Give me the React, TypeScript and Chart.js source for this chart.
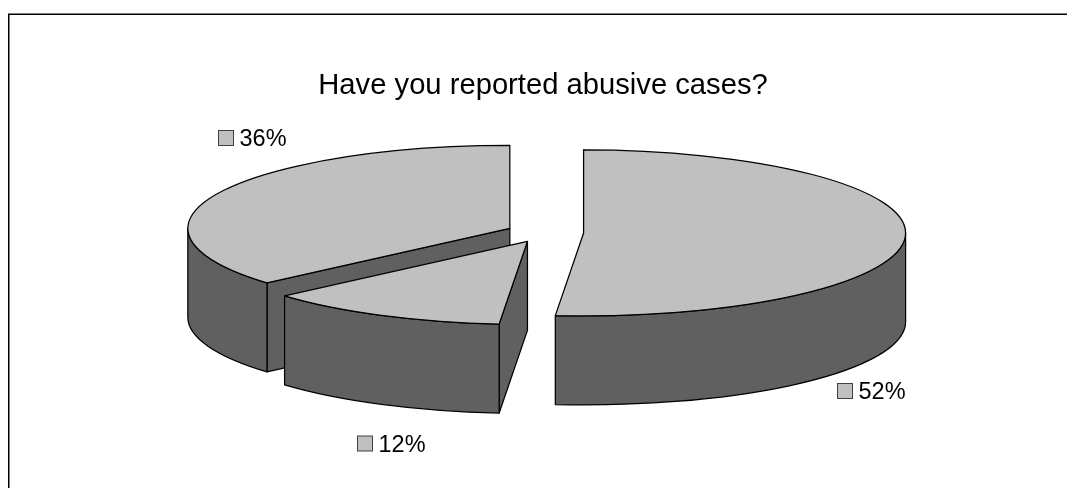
import React, { useEffect, useRef } from "react";
import { Chart, registerables } from "chart.js";

Chart.register(...registerables);

const TITLE = "Have you reported abusive cases?";
const categories = ["Yes", "No answer", "No"];
const shares = [51.4, 12.2, 36.4];
const percentLabels = ["52%", "12%", "36%"];

const FONT = '"Liberation Sans", Arial, sans-serif';
const TOP_COLOR = "#c0c0c0";
const SIDE_COLOR = "#606060";
const EDGE_COLOR = "#000000";

// Projection of the 3D pie onto the page
const CX = 545;
const CY = 232.5;
const RX = 322;
const RY = 83;
const DEPTH = 89;
const EXPLODE = 0.12;
// Where each percentage key begins (left edge of key, vertical middle)
const LABEL_ANCHORS = [
  { x: 837, y: 391 },
  { x: 357, y: 443.5 },
  { x: 218, y: 138 },
];

const pie3d = {
  id: "pie3d",
  beforeDatasetsDraw(chart: any) {
    const { ctx } = chart;
    const arcs = chart.getDatasetMeta(0).data as any[];
    const slices = arcs.map((arc, i) => {
      const { startAngle: a0, endAngle: a1 } = arc.getProps(["startAngle", "endAngle"], true);
      const mid = (a0 + a1) / 2;
      return {
        i,
        a0,
        a1,
        mid,
        ox: CX + Math.cos(mid) * EXPLODE * RX,
        oy: CY + Math.sin(mid) * EXPLODE * RY,
      };
    });
    // painter's order: left-back slice, then the others
    const order = [...slices].sort((p, q) => p.oy - q.oy);
    ctx.save();
    ctx.lineJoin = "round";
    ctx.lineWidth = 1.25;
    ctx.strokeStyle = EDGE_COLOR;
    for (const s of order) {
      const px = (a: number) => s.ox + Math.cos(a) * RX;
      const py = (a: number) => s.oy + Math.sin(a) * RY;
      const face = (a: number) => {
        ctx.beginPath();
        ctx.moveTo(s.ox, s.oy);
        ctx.lineTo(px(a), py(a));
        ctx.lineTo(px(a), py(a) + DEPTH);
        ctx.lineTo(s.ox, s.oy + DEPTH);
        ctx.closePath();
        ctx.fillStyle = SIDE_COLOR;
        ctx.fill();
        ctx.stroke();
      };
      // radial cut faces that look toward the viewer
      if (Math.cos(s.a0) < 1e-6) face(s.a0);
      if (Math.cos(s.a1) > 1e-6) face(s.a1);
      // outer wall: the part of the rim on the near half
      const wallFrom = Math.max(s.a0, 0);
      const wallTo = Math.min(s.a1, Math.PI);
      if (wallTo > wallFrom) {
        ctx.beginPath();
        ctx.ellipse(s.ox, s.oy, RX, RY, 0, wallFrom, wallTo);
        ctx.lineTo(px(wallTo), py(wallTo) + DEPTH);
        ctx.ellipse(s.ox, s.oy + DEPTH, RX, RY, 0, wallTo, wallFrom, true);
        ctx.closePath();
        ctx.fillStyle = SIDE_COLOR;
        ctx.fill();
        ctx.stroke();
      }
      // top surface
      ctx.beginPath();
      ctx.moveTo(s.ox, s.oy);
      ctx.ellipse(s.ox, s.oy, RX, RY, 0, s.a0, s.a1);
      ctx.closePath();
      ctx.fillStyle = TOP_COLOR;
      ctx.fill();
      ctx.stroke();
    }
    ctx.restore();
    return false;
  },
  afterDraw(chart: any) {
    const { ctx, width, height } = chart;
    ctx.save();
    // frame
    ctx.strokeStyle = "#000000";
    ctx.lineWidth = 1.5;
    ctx.beginPath();
    ctx.moveTo(8.75, height);
    ctx.lineTo(8.75, 14.25);
    ctx.lineTo(width, 14.25);
    ctx.stroke();
    // percentage labels with legend keys
    ctx.font = `23.5px ${FONT}`;
    ctx.textAlign = "left";
    ctx.textBaseline = "middle";
    percentLabels.forEach((label, i) => {
      const { x, y } = LABEL_ANCHORS[i];
      ctx.fillStyle = TOP_COLOR;
      ctx.strokeStyle = "#404040";
      ctx.lineWidth = 1;
      ctx.fillRect(x + 0.5, y - 7.5, 15, 15);
      ctx.strokeRect(x + 0.5, y - 7.5, 15, 15);
      ctx.fillStyle = "#000000";
      ctx.fillText(label, x + 21.5, y + 2);
    });
    ctx.restore();
  },
};

export default function App() {
  const ref = useRef<HTMLCanvasElement>(null);
  useEffect(() => {
    const chart = new Chart(ref.current!, {
      type: "pie",
      data: {
        labels: categories,
        datasets: [{ data: shares, backgroundColor: TOP_COLOR, borderColor: EDGE_COLOR }],
      },
      options: {
        responsive: false,
        animation: false,
        layout: { padding: { left: 19, top: 0 } },
        plugins: {
          legend: { display: false },
          tooltip: { enabled: false },
          title: {
            display: true,
            text: TITLE,
            color: "#000000",
            font: { family: FONT, size: 29.2, weight: "normal" },
            padding: { top: 68, bottom: 10 },
          },
        },
      },
      plugins: [pie3d],
    } as any);
    return () => chart.destroy();
  }, []);
  return (
    <div style={{ position: "absolute", left: 0, top: 0, width: 1067, height: 488, background: "#fff" }}>
      <canvas ref={ref} width={1067} height={488} style={{ display: "block" }} />
    </div>
  );
}
